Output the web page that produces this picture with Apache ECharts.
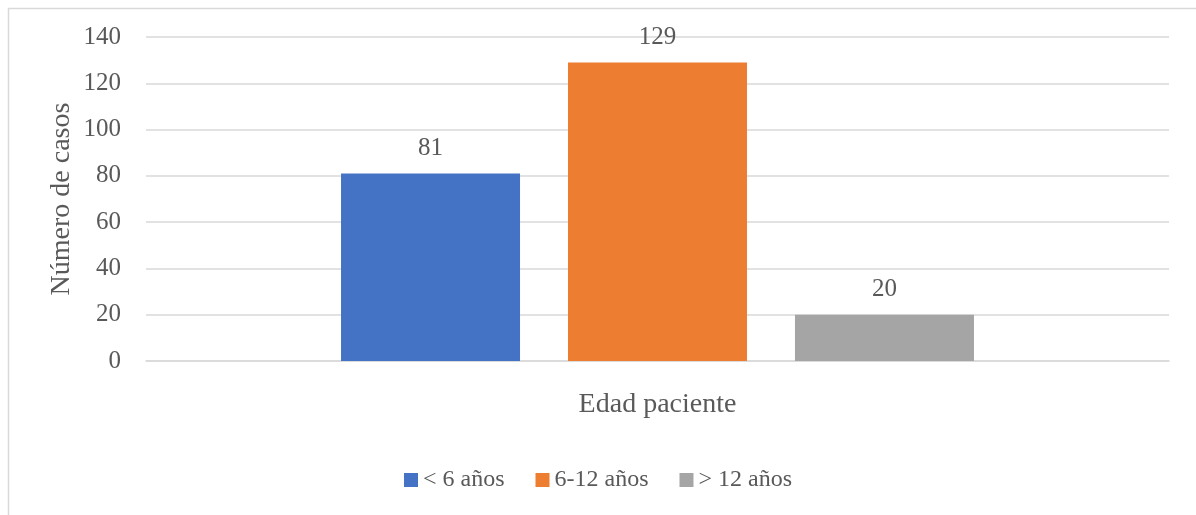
<!DOCTYPE html>
<html>
<head>
<meta charset="utf-8">
<script src="https://cdn.jsdelivr.net/npm/echarts@6/dist/echarts.min.js"></script>
<style>
  html, body { margin: 0; padding: 0; background: #fff; }
  #chart { width: 1196px; height: 515px; }
</style>
</head>
<body>
<div id="chart"></div>
<script>
// Casos por grupo de edad del paciente
const categories = ['Edad paciente'];
const seriesNames = ['< 6 años', '6-12 años', '> 12 años'];
const menores6 = [81];
const de6a12 = [129];
const mayores12 = [20];
const yTicks = { min: 0, max: 140, interval: 20 };

const colors = ['#4472C4', '#ED7D31', '#A5A5A5'];
const FONT = '"Liberation Serif", "DejaVu Serif", serif';
const TEXT = '#595959';

const values = [menores6, de6a12, mayores12];

const chart = echarts.init(document.getElementById('chart'));
chart.setOption({
  animation: false,
  textStyle: { fontFamily: FONT, color: TEXT },
  graphic: [{
    type: 'rect',
    shape: { x: 8.5, y: 8.5, width: 1200, height: 520 },
    style: { fill: 'none', stroke: '#d9d9d9', lineWidth: 1.5 },
    silent: true
  }],
  grid: { left: 146, right: 27, top: 37, bottom: 154 },
  legend: {
    top: 463,
    left: 'center',
    itemWidth: 14,
    itemHeight: 14,
    itemGap: 31,
    icon: 'rect',
    textStyle: { fontFamily: FONT, fontSize: 24, color: TEXT },
    data: seriesNames
  },
  xAxis: {
    type: 'category',
    data: categories,
    axisLine: { lineStyle: { color: '#d9d9d9', width: 1.5 } },
    axisTick: { show: false },
    axisLabel: { fontFamily: FONT, fontSize: 28, color: TEXT, margin: 30 }
  },
  yAxis: {
    type: 'value',
    min: yTicks.min,
    max: yTicks.max,
    interval: yTicks.interval,
    name: 'Número de casos',
    nameLocation: 'middle',
    nameGap: 70,
    nameMoveOverlap: false,
    nameTextStyle: { fontFamily: FONT, fontSize: 28, color: TEXT },
    axisLine: { show: false },
    axisTick: { show: false },
    axisLabel: { fontFamily: FONT, fontSize: 25, color: TEXT, margin: 25 },
    splitLine: { lineStyle: { color: '#d9d9d9', width: 1.5 } }
  },
  series: seriesNames.map((name, i) => ({
    name: name,
    type: 'bar',
    data: values[i],
    barWidth: 179,
    barGap: '26.8%',
    itemStyle: { color: colors[i] },
    label: {
      show: true,
      position: 'top',
      distance: 13,
      fontFamily: FONT,
      fontSize: 25,
      color: TEXT
    }
  }))
});
</script>
</body>
</html>
